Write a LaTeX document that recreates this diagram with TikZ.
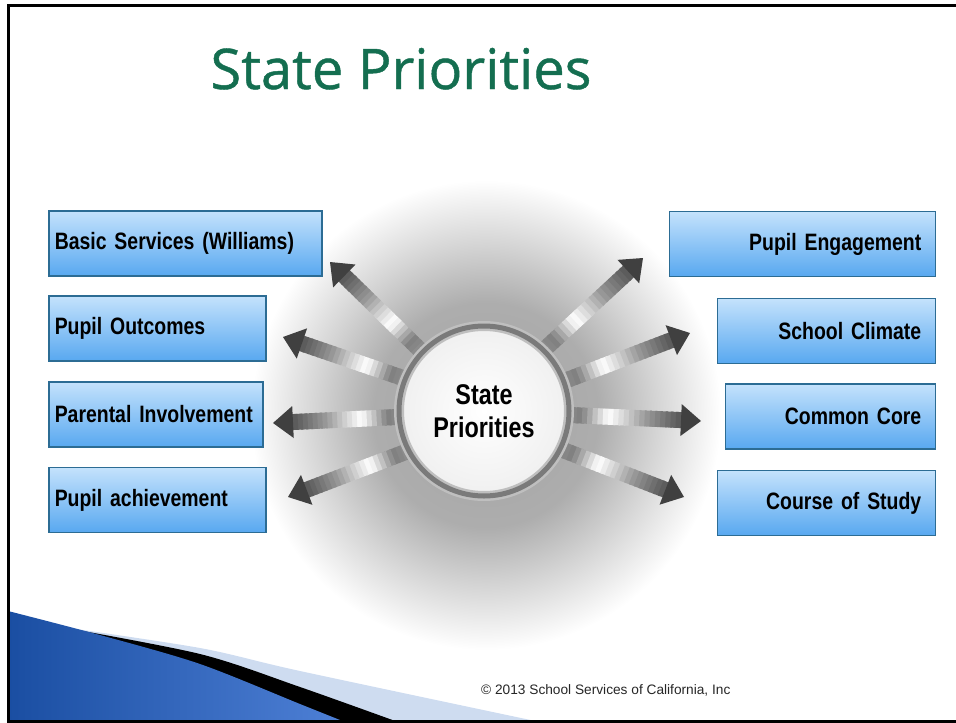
\documentclass[tikz,border=0pt]{standalone}
\usepackage{fontspec}
\setmainfont{Liberation Sans}
\newfontfamily\titlefont{Open Sans}[FakeBold=0.8]
\newfontfamily\boxfont{Liberation Sans Bold}[FakeStretch=0.82]
\usetikzlibrary{calc}

\definecolor{titlegreen}{RGB}{20,110,80}
\definecolor{boxtop}{RGB}{196,226,252}
\definecolor{boxbot}{RGB}{88,168,240}
\definecolor{boxline}{RGB}{44,108,148}
\definecolor{swoosh}{RGB}{26,78,162}
\definecolor{swooshlight}{RGB}{78,128,214}
\definecolor{paleblue}{RGB}{206,220,240}
\pgfdeclareradialshading{glow}{\pgfpoint{0bp}{0bp}}{color(0bp)=(black!36); color(12bp)=(black!32); color(18bp)=(black!17); color(25bp)=(white); color(50bp)=(white)}

\begin{document}
\begin{tikzpicture}[x=1pt, y=-1pt,
    box/.style={draw=boxline, line width=1.5pt, top color=boxtop, bottom color=boxbot, minimum height=65pt, font=\boxfont\fontsize{23.7}{27}\selectfont},
    lbox/.style={box, anchor=west, align=left, inner xsep=6pt},
    rbox/.style={box, anchor=east, align=right, inner xsep=14pt},
    hub/.style={circle, minimum size=170pt, inner color=white, outer color=black!6, draw=black!25, double=black!52, line width=2.5pt, double distance=5pt, align=center, font=\boxfont\fontsize{28.5}{33}\selectfont},
    shaft/.style={line width=16pt},
    head/.style={fill=black!75}]
    \useasboundingbox (0,0) rectangle (956,723);

    % glow behind the hub
    \shade[shading=glow] (486,415) circle (235pt);

    \node[lbox, text width=261pt] (basic) at (48,243.5) {Basic Services (Williams)};
    \node[lbox, text width=205pt] (outcomes) at (48,328.5) {Pupil Outcomes};
    \node[lbox, text width=202pt] (parents) at (48,414.5) {Parental Involvement};
    \node[lbox, text width=205pt] (achieve) at (48,500) {Pupil achievement};

    \node[rbox, text width=238pt] (engage) at (936,244) {Pupil Engagement};
    \node[rbox, text width=190pt] (climate) at (936,331) {School Climate};
    \node[rbox, text width=182pt] (core) at (936,416.5) {Common Core};
    \node[rbox, text width=190pt] (study) at (936,503) {Course of Study};

    \coordinate (s1) at (417,347); \coordinate (t1) at (330,262);
    \coordinate (s2) at (400,377); \coordinate (t2) at (283,337);
    \coordinate (s3) at (397,417); \coordinate (t3) at (273,423);
    \coordinate (s4) at (403,453); \coordinate (t4) at (288,497);
    \coordinate (s5) at (547,347); \coordinate (t5) at (643,258);
    \coordinate (s6) at (567,380); \coordinate (t6) at (690,333);
    \coordinate (s7) at (570,415); \coordinate (t7) at (701,421);
    \coordinate (s8) at (563,450); \coordinate (t8) at (684,497);

    % metal arrows
    \foreach \src/\tip in {s1/t1, s2/t2, s3/t3, s4/t4, s5/t5, s6/t6, s7/t7, s8/t8} {
        \coordinate (base) at ($(\src)!-14pt!(\tip)$);
        \coordinate (neck) at ($(\tip)!20pt!(\src)$);
        \foreach \k in {0,...,23} {
            \pgfmathsetmacro\ta{\k/24}
            \pgfmathsetmacro\tb{(\k+1.4)/24}
            \pgfmathsetmacro\tm{(\k+0.5)/24}
            \pgfmathsetmacro\gv{\tm<0.2 ? 40+50*\tm : (\tm<0.42 ? 50-227*(\tm-0.2) : (\tm<0.72 ? 133*(\tm-0.42) : 40+93*(\tm-0.72)))}
            \draw[shaft, draw=black!\gv] ($(base)!\ta!(neck)$) -- ($(base)!\tb!(neck)$);
        }
        \fill[head] (\tip) -- ($(neck)!16pt!90:(\tip)$) -- ($(neck)!16pt!-90:(\tip)$) -- cycle;
    }

    \node[hub] (hub) at (484,411) {State\\Priorities};

    % bottom left swoosh
    \fill[paleblue] (55,626) -- plot[smooth, tension=0.5] coordinates {(55,626) (200,648) (300,671) (540,722)} -- (8,722) -- cycle;
    \fill[black] (55,626) -- plot[smooth, tension=0.5] coordinates {(55,626) (200,654) (300,687) (398,722)} -- (8,722) -- cycle;
    \shade[left color=swoosh, right color=swooshlight] (8,611) -- plot[smooth, tension=0.5] coordinates {(8,611) (100,635) (200,664) (300,704) (345,722)} -- (8,722) -- cycle;

    % frame
    \draw[line width=3pt] (956,5) -- (8.5,5) -- (8.5,721.5) -- (956,721.5);

    \node[anchor=base west, inner sep=0pt, font=\fontsize{13.7}{16}\selectfont, text=black!85] (copy) at (481,694) {© 2013 School Services of California, Inc};

    \node[anchor=base, inner sep=0pt, font=\titlefont\fontsize{56}{60}\selectfont, text=titlegreen] (title) at (401,89) {State Priorities};

\end{tikzpicture}
\end{document}
